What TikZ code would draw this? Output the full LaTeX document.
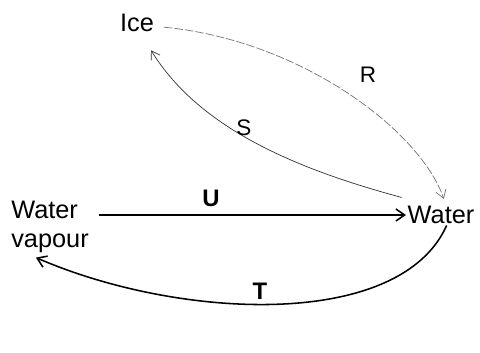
\documentclass[tikz,border=0pt]{standalone}
\usepackage{fontspec}
\setmainfont{Liberation Sans}
\usetikzlibrary{arrows.meta,positioning}

\begin{document}
\begin{tikzpicture}[
  x=0.025cm, y=-0.025cm,
  phase/.style ={font=\fontsize{18}{21}\selectfont, inner sep=1pt, align=left},
  lbl/.style   ={font=\fontsize{16}{19}\selectfont},
  blbl/.style  ={font=\fontsize{17}{20}\selectfont\bfseries},
  ar/.style    ={-{Straight Barb[length=2.2mm,width=3mm]}, line width=1.1pt},
  thin/.style  ={-{Straight Barb[length=2mm,width=2.6mm]}, line width=0.5pt, draw=black!55},
]
\useasboundingbox (0,0) rectangle (480,353);

% ---------------- the three phases ------------------------------------
\node[phase] (ice)    at (137,23)  {Ice};
\node[phase] (water)  at (441,215) {Water};
\node[phase] (vapour) at (50,227)  {Water\\vapour};

% ---------------- changes between them --------------------------------
\draw[thin, dash pattern=on 6pt off 1.5pt] ([xshift=6pt,yshift=-3pt]ice.east)
  .. controls (300,40) and (420,130) .. ([xshift=2pt,yshift=4pt]water.north);
\node[lbl] (r) at (368,75) {R};

\draw[thin, draw=black!80] ([xshift=-28pt,yshift=5pt]water.north)
  .. controls (300,170) and (200,130) .. ([xshift=10pt,yshift=-12pt]ice.south);
\node[lbl] (s) at (244,128) {S};

\draw[ar] ([xshift=6pt]vapour.east |- water.west) -- (water.west);
\node[blbl] (u) at (211,198) {U};

\draw[ar] ([xshift=4pt]water.south)
  .. controls (400,330) and (180,320) .. ([xshift=-10pt,yshift=-2pt]vapour.south);
\node[blbl] (t) at (260,291) {T};

\end{tikzpicture}
\end{document}
